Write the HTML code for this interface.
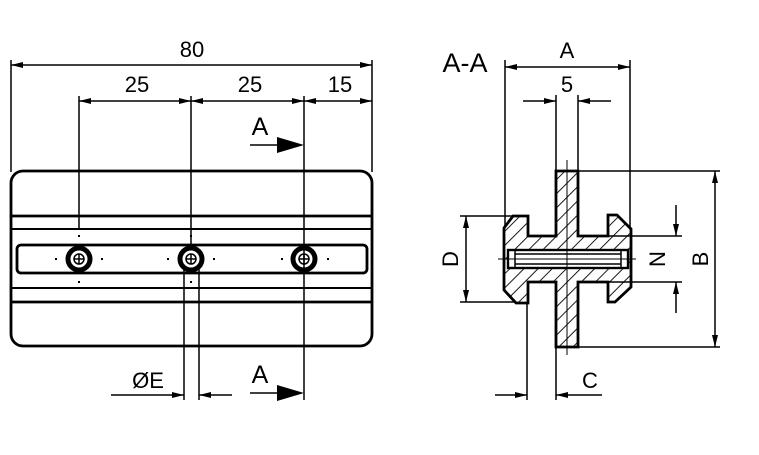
<!DOCTYPE html>
<html><head><meta charset="utf-8"><style>
html,body{margin:0;padding:0;background:#fff;}
svg{display:block;font-family:"Liberation Sans","DejaVu Sans",sans-serif;}
</style></head><body>
<svg width="759" height="455" viewBox="0 0 759 455" xmlns="http://www.w3.org/2000/svg">
<defs>
<marker id="ar" viewBox="0 0 12 6" refX="12" refY="3" markerWidth="12" markerHeight="6" markerUnits="userSpaceOnUse" orient="auto-start-reverse"><path d="M0,0 L12,3 L0,6 z" fill="#000"/></marker>
<pattern id="h" width="10" height="10" patternUnits="userSpaceOnUse" patternTransform="rotate(45)"><line x1="0" y1="0" x2="0" y2="10" stroke="#000" stroke-width="1.8"/></pattern>
<clipPath id="sc"><path d="M513,216 L528,216 L528,236 L556,236 L556,171 L578,171 L578,236 L608,236 L608,215 L617,215 L631,229 L631,287 L615,302 L608,302 L608,282 L578,282 L578,347 L556,347 L556,282 L528,282 L528,303 L516,303 L504,290 L504,228 Z"/></clipPath>
</defs>
<g stroke="#000" fill="none" stroke-width="1.5">
<line x1="11" y1="60" x2="11" y2="172"/>
<line x1="372" y1="60" x2="372" y2="172"/>
<line x1="11" y1="65" x2="372" y2="65" marker-start="url(#ar)" marker-end="url(#ar)"/>
<line x1="79" y1="96" x2="79" y2="230"/>
<line x1="191" y1="96" x2="191" y2="246"/>
<line x1="304" y1="96" x2="304" y2="400"/>
<line x1="79" y1="101" x2="191" y2="101" marker-start="url(#ar)" marker-end="url(#ar)"/>
<line x1="191" y1="101" x2="304" y2="101" marker-start="url(#ar)" marker-end="url(#ar)"/>
<line x1="304" y1="101" x2="372" y2="101" marker-start="url(#ar)" marker-end="url(#ar)"/>
<rect x="11" y="171" width="361" height="175" rx="12" stroke-width="2.8"/>
<line x1="11" y1="216" x2="372" y2="216" stroke-width="2.8"/>
<line x1="11" y1="229" x2="372" y2="229" stroke-width="2"/>
<line x1="11" y1="288" x2="372" y2="288" stroke-width="2"/>
<line x1="11" y1="302" x2="372" y2="302" stroke-width="2.8"/>
<rect x="17" y="245" width="350" height="28" rx="4" stroke-width="2.8"/>
<line x1="184" y1="268" x2="184" y2="400"/>
<line x1="199" y1="268" x2="199" y2="400"/>
<line x1="111" y1="395" x2="184" y2="395" marker-end="url(#ar)"/>
<line x1="232" y1="395" x2="199" y2="395" marker-end="url(#ar)"/>
<line x1="250" y1="145" x2="280" y2="145" stroke-width="1.6"/>
<line x1="250" y1="393" x2="280" y2="393" stroke-width="1.6"/>
</g>
<path d="M277,137 L304,145 L277,153 Z" fill="#000"/>
<path d="M277,385 L304,393 L277,401 Z" fill="#000"/>
<g stroke="#000" fill="none">
<circle cx="79" cy="259" r="11" stroke-width="5"/>
<circle cx="79" cy="259" r="5" stroke-width="1.5"/>
<circle cx="191" cy="259" r="11" stroke-width="5"/>
<circle cx="191" cy="259" r="5" stroke-width="1.5"/>
<circle cx="304" cy="259" r="11" stroke-width="5"/>
<circle cx="304" cy="259" r="5" stroke-width="1.5"/>
<path d="M74,259h10M79,254v10M186,259h10M191,254v10M299,259h10M304,254v10" stroke-width="1.5"/>
</g>
<g fill="#000">
<rect x="55" y="258" width="2" height="2"/><rect x="101" y="258" width="2" height="2"/><rect x="78" y="235" width="2" height="2"/><rect x="78" y="281" width="2" height="2"/>
<rect x="167" y="258" width="2" height="2"/><rect x="213" y="258" width="2" height="2"/><rect x="190" y="235" width="2" height="2"/><rect x="190" y="281" width="2" height="2"/>
<rect x="281" y="258" width="2" height="2"/><rect x="327" y="258" width="2" height="2"/>
</g>
<g font-size="22" fill="#000">
<text x="192" y="57" text-anchor="middle">80</text>
<text x="137" y="92" text-anchor="middle">25</text>
<text x="250" y="92" text-anchor="middle">25</text>
<text x="340" y="92" text-anchor="middle">15</text>
<text x="260" y="135" text-anchor="middle" font-size="25">A</text>
<text x="260" y="383" text-anchor="middle" font-size="25">A</text>
<text x="148" y="388" text-anchor="middle">ØE</text>
<text x="465" y="72" text-anchor="middle" font-size="27">A-A</text>
<text x="567" y="58" text-anchor="middle">A</text>
<text x="567" y="92" text-anchor="middle">5</text>
<text x="590" y="388" text-anchor="middle">C</text>
<text transform="translate(458,259) rotate(-90)" text-anchor="middle">D</text>
<text transform="translate(665,259) rotate(-90)" text-anchor="middle">N</text>
<text transform="translate(708,259) rotate(-90)" text-anchor="middle">B</text>
</g>
<rect x="495" y="160" width="145" height="200" fill="url(#h)" clip-path="url(#sc)"/>
<rect x="508" y="250" width="120" height="18" fill="#fff"/>
<g stroke="#000" fill="none" stroke-width="1.5">
<path d="M513,216 L528,216 L528,236 L556,236 L556,171 L578,171 L578,236 L608,236 L608,215 L617,215 L631,229 L631,287 L615,302 L608,302 L608,282 L578,282 L578,347 L556,347 L556,282 L528,282 L528,303 L516,303 L504,290 L504,228 Z" stroke-width="2.8"/>
<rect x="508" y="250" width="120" height="18" stroke-width="2.4"/>
<line x1="515" y1="254" x2="621" y2="254"/>
<line x1="515" y1="264" x2="621" y2="264"/>
<line x1="515" y1="250" x2="515" y2="268"/>
<line x1="621" y1="250" x2="621" y2="268"/>
<line x1="498" y1="259" x2="636" y2="259" stroke-width="1"/>
<line x1="567" y1="160" x2="567" y2="355" stroke-width="1"/>
<line x1="505" y1="60" x2="505" y2="228"/>
<line x1="630" y1="60" x2="630" y2="228"/>
<line x1="505" y1="67" x2="630" y2="67" marker-start="url(#ar)" marker-end="url(#ar)"/>
<line x1="556" y1="95" x2="556" y2="171"/>
<line x1="578" y1="95" x2="578" y2="171"/>
<line x1="523" y1="101" x2="556" y2="101" marker-end="url(#ar)"/>
<line x1="611" y1="101" x2="578" y2="101" marker-end="url(#ar)"/>
<line x1="460" y1="216" x2="513" y2="216"/>
<line x1="460" y1="302" x2="516" y2="302"/>
<line x1="466" y1="216" x2="466" y2="302" marker-start="url(#ar)" marker-end="url(#ar)"/>
<line x1="608" y1="236" x2="682" y2="236"/>
<line x1="608" y1="282" x2="682" y2="282"/>
<line x1="676" y1="205" x2="676" y2="236" marker-end="url(#ar)"/>
<line x1="676" y1="313" x2="676" y2="282" marker-end="url(#ar)"/>
<line x1="578" y1="171" x2="720" y2="171"/>
<line x1="578" y1="347" x2="720" y2="347"/>
<line x1="715" y1="171" x2="715" y2="347" marker-start="url(#ar)" marker-end="url(#ar)"/>
<line x1="527" y1="303" x2="527" y2="400"/>
<line x1="556" y1="347" x2="556" y2="400"/>
<line x1="495" y1="395" x2="527" y2="395" marker-end="url(#ar)"/>
<line x1="602" y1="395" x2="556" y2="395" marker-end="url(#ar)"/>
</g>
</svg>
</body></html>
